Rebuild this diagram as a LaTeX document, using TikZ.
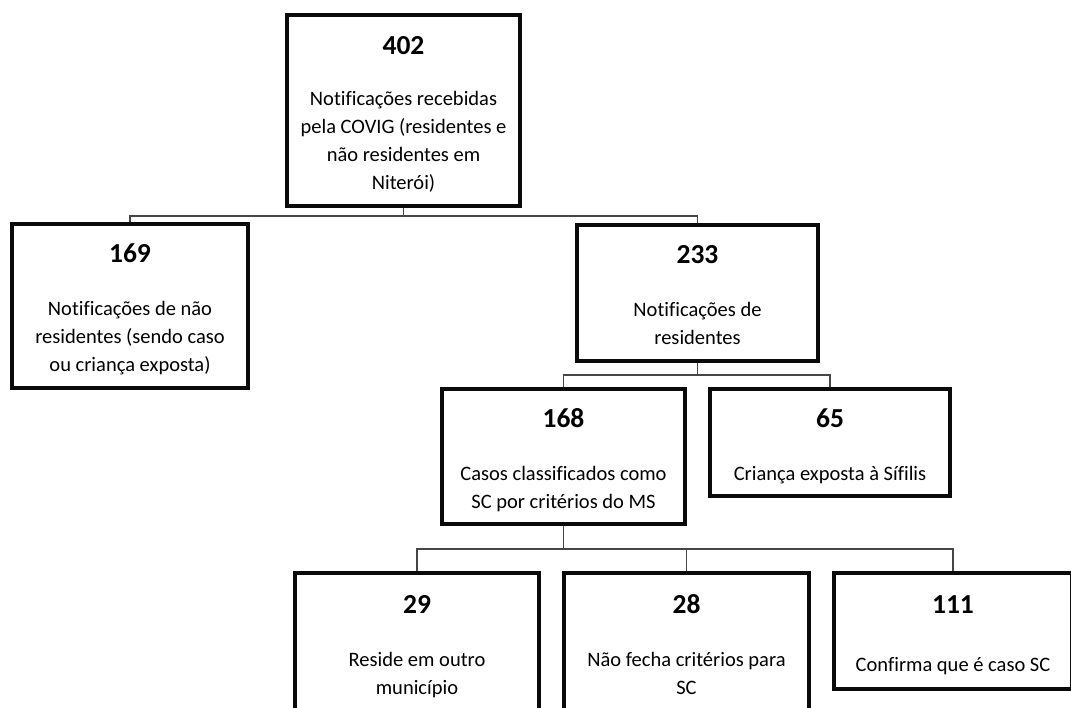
\documentclass[tikz,border=0pt]{standalone}
\usepackage{fontspec}
\setmainfont{Carlito}[Ligatures=NoCommon]
\usepackage{xcolor}
\definecolor{boxLine}{RGB}{10, 10, 10}
\definecolor{linkGray}{RGB}{70, 70, 70}
\usetikzlibrary{positioning, calc}
\tikzset{
    box/.style={draw=boxLine, line width=4pt, fill=white, inner sep=0pt, align=center,
        font=\fontsize{20.5}{28}\selectfont, execute at end node={\strut}},
    link/.style={draw=linkGray, line width=1.3pt}
}
\newcommand{\num}[2][25pt]{{\fontsize{27.5}{28}\selectfont\bfseries\rule{0pt}{31pt}#2}\\[#1]}

\begin{document}
\begin{tikzpicture}[x=1pt, y=-1pt]
    \clip (0,0) rectangle (1071,708);

    % --- LEVEL 1 ---
    \node[box, minimum width=233pt, minimum height=191pt] (n402) at (403.5,110.5)
        {\num[23pt]{402}Notificações recebidas\\pela COVIG (residentes e\\não residentes em\\Niterói)};

    % --- LEVEL 2 ---
    \node[box, minimum width=236pt, minimum height=164pt] (n169) at (130,306)
        {\num{169}Notificações de não\\residentes (sendo caso\\ou criança exposta)};
    \node[box, minimum width=241pt, minimum height=136pt] (n233) at (697.5,293)
        {\num{233}Notificações de\\residentes};

    % --- LEVEL 3 ---
    \node[box, minimum width=243pt, minimum height=135pt] (n168) at (563.5,456.5)
        {\num{168}Casos classificados como\\SC por critérios do MS};
    \node[box, minimum width=240pt, minimum height=107pt] (n65) at (830,442.5)
        {\num{65}Criança exposta à Sífilis};

    % --- LEVEL 4 ---
    \node[box, minimum width=244pt, minimum height=139pt] (n29) at (417,642.5)
        {\num{29}Reside em outro\\município};
    \node[box, minimum width=245pt, minimum height=139pt] (n28) at (686.5,642.5)
        {\num{28}Não fecha critérios para\\SC};
    \node[box, minimum width=238pt, minimum height=116pt] (n111) at (953,631)
        {\num[30.5pt]{111}Confirma que é caso SC};

    % --- CONNECTORS ---
    \coordinate (busA) at (0,216);
    \coordinate (busB) at (0,375);
    \coordinate (busC) at (0,549);

    \draw[link] (n402.south) -- (n402.south |- busA);
    \draw[link] (n169.north) -- (n169.north |- busA) -| (n233.north);

    \draw[link] (n233.south) -- (n233.south |- busB);
    \draw[link] (n168.north) -- (n168.north |- busB) -| (n65.north);

    \draw[link] (n168.south) -- (n168.south |- busC);
    \draw[link] (n29.north) -- (n29.north |- busC) -| (n111.north);
    \draw[link] (n28.north) -- (n28.north |- busC);

\end{tikzpicture}
\end{document}
